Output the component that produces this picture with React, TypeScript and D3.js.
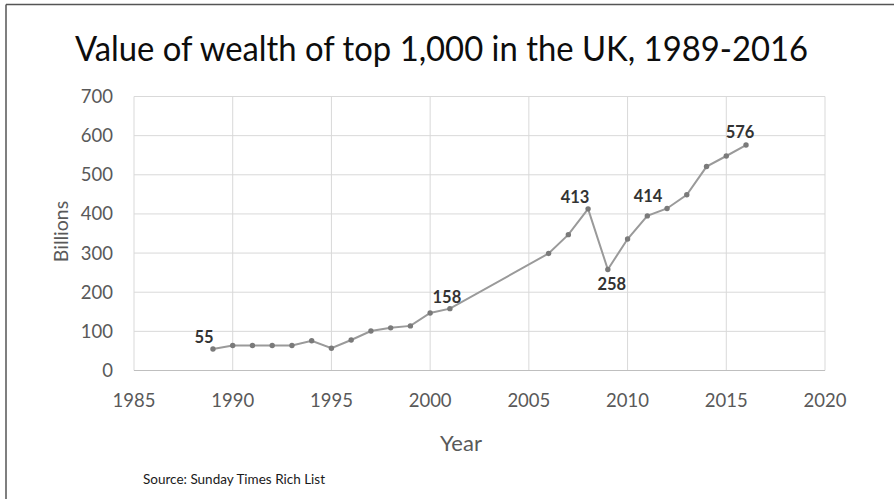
import React from 'react';
import * as d3 from 'd3';

const years = [
  1989, 1990, 1991, 1992, 1993, 1994, 1995, 1996, 1997, 1998, 1999, 2000, 2001,
  2006, 2007, 2008, 2009, 2010, 2011, 2012, 2013, 2014, 2015, 2016,
];
const billions = [
  55, 64, 64, 64, 64, 76, 57, 78, 101, 109, 114, 147, 158,
  299, 347, 413, 258, 336, 395, 414, 449, 521, 548, 576,
];
const labelledYears = [1989, 2001, 2008, 2009, 2012, 2016];
const xTicks = [1985, 1990, 1995, 2000, 2005, 2010, 2015, 2020];
const yTicks = [0, 100, 200, 300, 400, 500, 600, 700];

const W = 894;
const H = 499;
const font = "Lato, Carlito, 'Open Sans', sans-serif";

// label nudges, as Excel had them dragged around
const labelShift: Record<number, [number, number]> = {
  1989: [-9, -6],
  2001: [-3, -6],
  2008: [-13, -6],
  2009: [4, 20],
  2012: [-19, -6],
  2016: [-6, -7],
};

const App: React.FC = () => {
  const x = d3.scaleLinear().domain([1985, 2020]).range([134, 825]);
  const y = d3.scaleLinear().domain([0, 700]).range([370.5, 96.5]);

  const points = years.map((yr, i) => ({ yr, v: billions[i] }));
  const line = d3
    .line<{ yr: number; v: number }>()
    .x((d) => x(d.yr))
    .y((d) => y(d.v));

  return (
    <svg
      width={W}
      height={H}
      style={{ position: 'absolute', left: 0, top: 0, background: '#fff' }}
      fontFamily={font}
    >
      <rect x={0} y={0} width={W} height={H} fill="#fff" />
      {/* frame edges visible in the crop */}
      <line x1={6} x2={W} y1={4.5} y2={4.5} stroke="#555" strokeWidth={1.5} />
      <line x1={6} x2={6} y1={4.5} y2={H} stroke="#555" strokeWidth={1.5} />

      <text x={75} y={61} fontSize={34} fill="#0d0d0d" textLength={733} lengthAdjust="spacingAndGlyphs">
        Value of wealth of top 1,000 in the UK, 1989-2016
      </text>

      {/* grid */}
      {yTicks.map((t) => (
        <line key={'gy' + t} x1={x(1985)} x2={x(2020)} y1={y(t)} y2={y(t)} stroke="#d9d9d9" strokeWidth={1} />
      ))}
      {xTicks.map((t) => (
        <line key={'gx' + t} x1={x(t)} x2={x(t)} y1={y(0)} y2={y(700)} stroke="#d9d9d9" strokeWidth={1} />
      ))}
      <line x1={x(1985)} x2={x(2020)} y1={y(0)} y2={y(0)} stroke="#bfbfbf" strokeWidth={1.2} />

      {/* axis labels */}
      {yTicks.map((t) => (
        <text key={'ly' + t} x={113} y={y(t) + 6.5} textAnchor="end" fontSize={18.5} fill="#595959">
          {t}
        </text>
      ))}
      {xTicks.map((t) => (
        <text key={'lx' + t} x={x(t)} y={407} textAnchor="middle" fontSize={18.5} fill="#595959">
          {t}
        </text>
      ))}
      <text x={461} y={451} textAnchor="middle" fontSize={22} fill="#595959">
        Year
      </text>
      <text
        transform={`translate(68, 231.5) rotate(-90)`}
        textAnchor="middle"
        fontSize={19.5}
        fill="#595959"
      >
        Billions
      </text>

      <path d={line(points) || ''} fill="none" stroke="#9a9a9a" strokeWidth={2} />
      {points.map((p) => (
        <circle key={p.yr} cx={x(p.yr)} cy={y(p.v)} r={2.7} fill="#7a7a7a" />
      ))}

      {points
        .filter((p) => labelledYears.includes(p.yr))
        .map((p) => {
          const [dx, dy] = labelShift[p.yr] || [0, -8];
          return (
            <text
              key={'dl' + p.yr}
              x={x(p.yr) + dx}
              y={y(p.v) + dy}
              textAnchor="middle"
              fontSize={16.5}
              fontWeight={700}
              fill="#333"
            >
              {p.v}
            </text>
          );
        })}

      <text x={143} y={484} fontSize={13.5} fill="#1a1a1a">
        Source: Sunday Times Rich List
      </text>
    </svg>
  );
};

export default App;
